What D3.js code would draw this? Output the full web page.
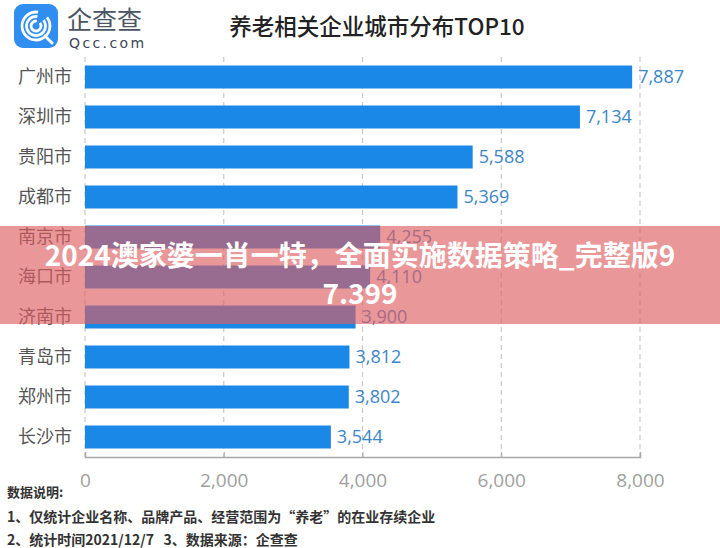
<!DOCTYPE html>
<html><head><meta charset="utf-8">
<script src="https://cdn.jsdelivr.net/npm/d3@7"></script>
<style>
html,body{margin:0;padding:0;background:#fff;}
svg{display:block;font-family:"Noto Sans CJK SC","Noto Sans",sans-serif;}
text{white-space:pre;}
</style></head>
<body>
<svg id="chart" width="720" height="548"></svg>
<script>
const categories = ["广州市","深圳市","贵阳市","成都市","南京市","海口市","济南市","青岛市","郑州市","长沙市"];
const values = [7887,7134,5588,5369,4255,4110,3900,3812,3802,3544];
const xTicks = [0,2000,4000,6000,8000];
const title = "养老相关企业城市分布TOP10";
const notes = ["数据说明:","1、仅统计企业名称、品牌产品、经营范围为“养老”的在业存续企业","2、统计时间2021/12/7   3、数据来源：企查查"];
const bannerLines = ["2024澳家婆一肖一特，全面实施数据策略_完整版9","7.399"];

const svg = d3.select("#chart");
const x = d3.scaleLinear().domain([0,8000]).range([85,640]);
const y = d3.scaleBand().domain(categories).range([57,457]).paddingInner(0.425).paddingOuter(0.2125);

// logo
const logo = svg.append("g");
logo.append("rect").attr("x",14).attr("y",4).attr("width",44).attr("height",44).attr("rx",9).attr("fill","#2f8ef0");
[14,9.5,5].forEach(r=>{
  logo.append("path").attr("d",d3.arc()({innerRadius:r-1.4,outerRadius:r+1.4,startAngle:0.9,endAngle:2*Math.PI+0.15}))
    .attr("transform","translate(36,26)").attr("fill","#fff");
});
logo.append("path").attr("d","M45,36 L52,43").attr("stroke","#fff").attr("stroke-width",3).attr("stroke-linecap","round");
svg.append("text").attr("x",67).attr("y",29).attr("font-size",25).attr("fill","#4b5563").text("企查查");
svg.append("text").attr("x",69).attr("y",48).attr("font-size",14).attr("letter-spacing",2.4).attr("fill","#3d4654").attr("font-family","DejaVu Sans").text("Qcc.com");

// title
svg.append("text").attr("x",377).attr("y",35).attr("text-anchor","middle").attr("font-size",22.5).attr("font-weight",500).attr("fill","#222").text(title);

// grid
svg.append("g").selectAll("line").data(xTicks).join("line")
  .attr("x1",d=>x(d)).attr("x2",d=>x(d)).attr("y1",57).attr("y2",457)
  .attr("stroke","#c8c8c8").attr("stroke-width",1.2).attr("stroke-dasharray","5,4");

// x axis
const axis = svg.append("g").attr("transform","translate(0,457)")
  .call(d3.axisBottom(x).tickValues(xTicks).tickSize(-5).tickPadding(12).tickFormat(d3.format(",")));
axis.select(".domain").attr("stroke","#a8a8a8").attr("stroke-width",1.5);
axis.selectAll(".tick line").attr("stroke","#a8a8a8");
axis.selectAll("text").attr("font-size",19).attr("fill","#a0a0a0").attr("font-family","Open Sans, Noto Sans, sans-serif").attr("dy","0.95em");

// bars
svg.append("g").selectAll("rect").data(values).join("rect")
  .attr("x",x(0)).attr("y",(d,i)=>y(categories[i]))
  .attr("width",d=>x(d)-x(0)).attr("height",y.bandwidth())
  .attr("fill","#1a88e6");

// value labels
svg.append("g").selectAll("text").data(values).join("text")
  .attr("x",d=>x(d)+6).attr("y",(d,i)=>y(categories[i])+y.bandwidth()/2)
  .attr("dy","0.35em").attr("font-size",18).attr("fill","#3d86c8")
  .attr("font-family","Open Sans, Noto Sans, sans-serif")
  .text(d=>d3.format(",")(d));

// category labels
svg.append("g").selectAll("text").data(categories).join("text")
  .attr("x",72).attr("y",d=>y(d)+y.bandwidth()/2).attr("dy","0.35em")
  .attr("text-anchor","end").attr("font-size",18).attr("fill","#555").text(d=>d);

// notes
svg.append("g").selectAll("text").data(notes).join("text")
  .attr("x",7).attr("y",(d,i)=>[497,522,545][i])
  .attr("font-size",(d,i)=>i===0?13:14).attr("font-weight",700).attr("fill","#333").text(d=>d);

// banner overlay
svg.append("rect").attr("x",0).attr("y",226).attr("width",720).attr("height",98).attr("fill","rgb(222,92,96)").attr("fill-opacity",0.64);
svg.append("g").selectAll("text").data(bannerLines).join("text")
  .attr("x",360).attr("y",(d,i)=>[266,304][i]).attr("text-anchor","middle")
  .attr("font-size",28).attr("font-weight",700).attr("fill","#fff").text(d=>d);
</script>
</body></html>
